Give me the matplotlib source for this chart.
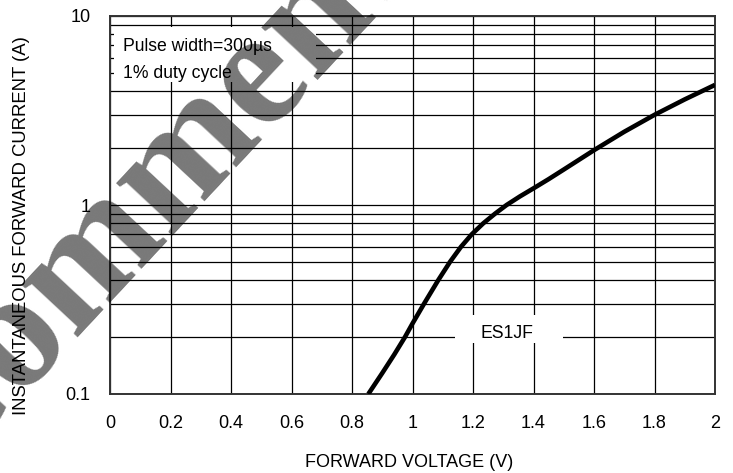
import matplotlib
matplotlib.use("Agg")
import matplotlib.pyplot as plt
from matplotlib.patches import Rectangle
from matplotlib.ticker import FixedLocator, FixedFormatter, NullFormatter

plt.rcParams['font.family'] = ['Liberation Sans', 'DejaVu Sans']

# Data
voltage = [0.854, 0.90, 0.94, 0.975, 1.0, 1.038, 1.085, 1.124, 1.16, 1.196, 1.234, 1.273,
           1.311, 1.355, 1.40, 1.45, 1.50, 1.60, 1.70, 1.80, 1.90, 2.00]
current = [0.100, 0.129, 0.162, 0.200, 0.236, 0.300, 0.400, 0.500, 0.600, 0.700, 0.800, 0.900,
           1.000, 1.11, 1.225, 1.37, 1.54, 1.95, 2.44, 3.00, 3.62, 4.32]

xticks = [0, 0.2, 0.4, 0.6, 0.8, 1.0, 1.2, 1.4, 1.6, 1.8, 2.0]
xtick_labels = ['0', '0.2', '0.4', '0.6', '0.8', '1', '1.2', '1.4', '1.6', '1.8', '2']
yticks = [0.1, 1, 10]
ytick_labels = ['0.1', '1', '10']
yminor = [m * d for d in (0.1, 1) for m in range(2, 10)]

series_label = 'ES1JF'
note_lines = ['Pulse width=300µs', '1% duty cycle']

fig = plt.figure(figsize=(7.33, 4.73), dpi=100)
ax = fig.add_axes([110/733, 1-394/473, (715-110)/733, (394-16)/473])

ax.set_yscale('log')
ax.set_xlim(0, 2)
ax.set_ylim(0.1, 10)

ax.xaxis.set_major_locator(FixedLocator(xticks))
ax.xaxis.set_major_formatter(FixedFormatter(xtick_labels))
ax.yaxis.set_major_locator(FixedLocator(yticks))
ax.yaxis.set_major_formatter(FixedFormatter(ytick_labels))
ax.yaxis.set_minor_locator(FixedLocator(yminor))
ax.yaxis.set_minor_formatter(NullFormatter())

ax.set_axisbelow(True)
ax.grid(True, which='major', axis='both', color='black', linewidth=0.9)
ax.grid(True, which='minor', axis='y', color='black', linewidth=0.9)

ax.tick_params(which='both', length=0, labelsize=13, colors='black')
ax.tick_params(axis='x', pad=15)
ax.tick_params(axis='y', pad=14)

for s in ax.spines.values():
    s.set_color('#333333')
    s.set_linewidth(1.4)

ax.plot(voltage, current, color='black', linewidth=3.3, zorder=3,
        solid_capstyle='butt', solid_joinstyle='round')

# white boxes behind annotations
ax.add_patch(Rectangle((0.013, 4.48), 0.68 - 0.013, 8.75 - 4.48, facecolor='white',
                       edgecolor='none', zorder=1.5))
ax.add_patch(Rectangle((1.14, 0.186), 1.498 - 1.14, 0.262 - 0.186, facecolor='white',
                       edgecolor='none', zorder=1.5))

ax.text(0.042, 6.9, note_lines[0], fontsize=12.7, ha='left', va='center', zorder=4)
ax.text(0.042, 4.95, note_lines[1], fontsize=12.7, ha='left', va='center', zorder=4)
ax.text(1.311, 0.21, series_label, fontsize=12.7, ha='center', va='center', zorder=4)

fig.text(409/733, 1-462/473, 'FORWARD VOLTAGE (V)', fontsize=13, ha='center', va='center')
fig.text(22/733, 1-226/473, 'INSTANTANEOUS FORWARD CURRENT (A)', fontsize=13.3,
         ha='center', va='center', rotation=90)

# watermark
fig.text(-66/733, 1-483/473, 'Comment', fontsize=120, family='Liberation Serif',
         fontweight='bold', color='black', alpha=0.53, rotation=47,
         rotation_mode='anchor', ha='left', va='baseline', zorder=10)

fig.savefig('out.png', dpi=100)
